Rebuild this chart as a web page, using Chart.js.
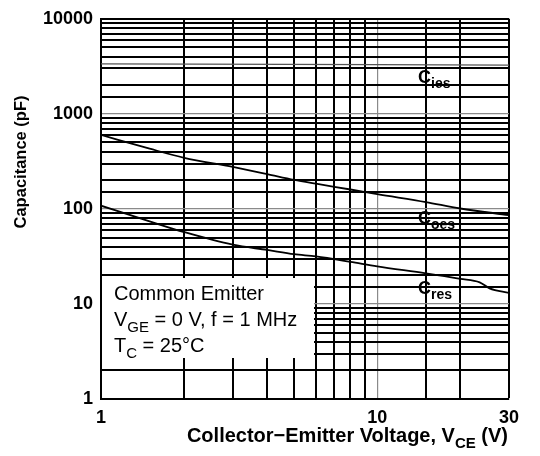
<!DOCTYPE html>
<html>
<head>
<meta charset="utf-8">
<script src="https://cdn.jsdelivr.net/npm/chart.js@4/dist/chart.umd.min.js"></script>
<style>
  html, body { margin: 0; padding: 0; background: #fff; }
  #wrap { width: 540px; height: 456px; position: relative; }
</style>
</head>
<body>
<div id="wrap"><canvas id="myChart"></canvas></div>
<script>
// values (pF against V_CE in volts)
const ciesV = [1, 10, 30];
const ciesC = [3350, 3300, 3250];
const coesV = [1, 1.5, 2, 3, 4, 5, 6, 8, 10, 15, 20, 30];
const coesC = [600, 430, 345, 276, 232, 202, 184, 160, 143, 118, 101, 86];
const cresV = [1, 1.5, 2, 3, 4, 5, 6, 8, 10, 15, 20, 23.5, 25.5, 30];
const cresC = [108, 74, 57, 42, 37, 33.4, 31.6, 27.7, 24.8, 21, 18.4, 16.9, 14.6, 13.1];
const yTickLabels = [1, 10, 100, 1000, 10000];
const xTickLabels = [1, 10, 30];

const FONT = '"Liberation Sans", Arial, Helvetica, sans-serif';

function pts(xs, ys) {
  return xs.map((x, i) => ({ x: x, y: ys[i] }));
}
function isDecade(v) {
  const l = Math.log10(v);
  return Math.abs(l - Math.round(l)) < 1e-9;
}

// draws "main" + subscript + rest, starting at x, returns end x
function subText(ctx, x, y, main, sub, rest, size, subSize, weight) {
  ctx.font = weight + ' ' + size + 'px ' + FONT;
  ctx.fillText(main, x, y);
  x += ctx.measureText(main).width;
  ctx.font = weight + ' ' + subSize + 'px ' + FONT;
  ctx.fillText(sub, x, y + size * 0.28);
  x += ctx.measureText(sub).width;
  if (rest) {
    ctx.font = weight + ' ' + size + 'px ' + FONT;
    ctx.fillText(rest, x, y);
    x += ctx.measureText(rest).width;
  }
  return x;
}
function subWidth(ctx, main, sub, rest, size, subSize, weight) {
  ctx.font = weight + ' ' + size + 'px ' + FONT;
  let w = ctx.measureText(main).width + ctx.measureText(rest).width;
  ctx.font = weight + ' ' + subSize + 'px ' + FONT;
  return w + ctx.measureText(sub).width;
}

const boxPlugin = {
  id: 'boxPlugin',
  beforeDatasetsDraw(chart) {
    const ctx = chart.ctx;
    const a = chart.chartArea;
    // white panel behind the conditions text
    ctx.save();
    ctx.fillStyle = '#fff';
    ctx.fillRect(a.left + 1, 278, 313 - a.left, 80);
    ctx.restore();
  },
  afterDraw(chart) {
    const ctx = chart.ctx;
    ctx.save();
    ctx.fillStyle = '#000';
    ctx.textBaseline = 'alphabetic';
    ctx.textAlign = 'left';

    // conditions
    ctx.font = '20px ' + FONT;
    ctx.fillText('Common Emitter', 114, 300);
    subText(ctx, 114, 326, 'V', 'GE', ' = 0 V, f = 1 MHz', 20, 15, 'normal');
    subText(ctx, 114, 352, 'T', 'C', ' = 25\u00B0C', 20, 15, 'normal');

    // curve labels
    subText(ctx, 418, 83, 'C', 'ies', '', 18, 14, 'bold');
    subText(ctx, 418, 224, 'C', 'oes', '', 18, 14, 'bold');
    subText(ctx, 418, 294, 'C', 'res', '', 18, 14, 'bold');

    // x title
    const w = subWidth(ctx, 'Collector\u2212Emitter Voltage, V', 'CE', ' (V)', 20, 15, 'bold');
    subText(ctx, 508 - w, 442, 'Collector\u2212Emitter Voltage, V', 'CE', ' (V)', 20, 15, 'bold');

    // y title
    ctx.translate(26, 162);
    ctx.rotate(-Math.PI / 2);
    ctx.textAlign = 'center';
    ctx.font = 'bold 16.5px ' + FONT;
    ctx.fillText('Capacitance (pF)', 0, 0);
    ctx.restore();
  }
};

function gridColor(c, isMax) {
  const v = c.tick.value;
  if (isMax(v)) return '#000';
  return isDecade(v) ? '#8a8a8a' : '#000';
}
function gridWidth(c, isMax) {
  const v = c.tick.value;
  if (isMax(v)) return 2;
  return isDecade(v) ? 1.2 : 2;
}

const ctx = document.getElementById('myChart');
new Chart(ctx, {
  type: 'line',
  data: {
    datasets: [
      {
        label: 'Cies',
        data: pts(ciesV, ciesC),
        borderColor: '#555',
        borderWidth: 1.3,
        pointRadius: 0,
        tension: 0
      },
      {
        label: 'Coes',
        data: pts(coesV, coesC),
        borderColor: '#000',
        borderWidth: 1.8,
        pointRadius: 0,
        cubicInterpolationMode: 'monotone'
      },
      {
        label: 'Cres',
        data: pts(cresV, cresC),
        borderColor: '#000',
        borderWidth: 1.8,
        pointRadius: 0,
        cubicInterpolationMode: 'monotone'
      }
    ]
  },
  options: {
    responsive: true,
    maintainAspectRatio: false,
    animation: false,
    events: [],
    layout: { padding: { top: 15, right: 31, left: 0, bottom: 0 } },
    plugins: {
      legend: { display: false },
      tooltip: { enabled: false }
    },
    scales: {
      x: {
        type: 'logarithmic',
        min: 1,
        max: 30,
        afterFit: (s) => { s.height = 57; },
        border: { color: '#000', width: 2 },
        grid: {
          drawTicks: false,
          color: (c) => gridColor(c, (v) => v === 30),
          lineWidth: (c) => gridWidth(c, (v) => v === 30)
        },
        ticks: {
          autoSkip: false,
          maxRotation: 0,
          padding: 8,
          color: '#000',
          font: { family: FONT, size: 18, weight: 'bold' },
          callback: (v) => xTickLabels.includes(v) ? String(v) : ''
        }
      },
      y: {
        type: 'logarithmic',
        min: 1,
        max: 10000,
        afterFit: (s) => { s.width = 101; },
        border: { color: '#000', width: 2 },
        grid: {
          drawTicks: false,
          color: (c) => gridColor(c, (v) => v === 10000),
          lineWidth: (c) => gridWidth(c, (v) => v === 10000)
        },
        ticks: {
          autoSkip: false,
          padding: 8,
          color: '#000',
          font: { family: FONT, size: 18, weight: 'bold' },
          callback: (v) => yTickLabels.includes(v) ? String(v) : ''
        }
      }
    }
  },
  plugins: [boxPlugin]
});
</script>
</body>
</html>
